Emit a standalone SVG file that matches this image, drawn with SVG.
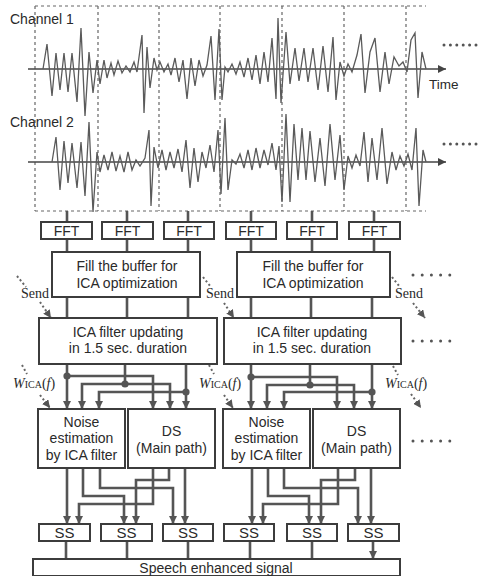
<svg xmlns="http://www.w3.org/2000/svg" width="478" height="576" viewBox="0 0 478 576">
<defs>
<marker id="ah" markerUnits="userSpaceOnUse" markerWidth="9" markerHeight="8" refX="8" refY="4" orient="auto"><path d="M0,0 L8,4 L0,8 z" fill="#555"/></marker>
<marker id="axh" markerUnits="userSpaceOnUse" markerWidth="9" markerHeight="8" refX="8" refY="4" orient="auto"><path d="M0,0 L8,4 L0,8 z" fill="#444"/></marker>
<style>
.box{fill:#fff;stroke:#3c3c3c;stroke-width:2}
.t{font-family:"Liberation Sans",Arial,sans-serif;font-size:14px;fill:#2a2a2a;text-anchor:middle}
.lbl{font-family:"Liberation Sans",Arial,sans-serif;font-size:14px;fill:#2a2a2a}
.ser{font-family:"Liberation Serif","Times New Roman",serif;font-size:14px;fill:#2a2a2a}
.c{fill:none;stroke:#555;stroke-width:2.6}
.ca{fill:none;stroke:#555;stroke-width:2.6;marker-end:url(#ah)}
.dot{fill:#555}
.dash{fill:none;stroke:#666;stroke-width:1.2;stroke-dasharray:3 3}
.wave{fill:none;stroke:#5a5a5a;stroke-width:1.3;stroke-linejoin:miter}
.axis{fill:none;stroke:#444;stroke-width:1.6;marker-end:url(#axh)}
.dotted{fill:none;stroke:#666;stroke-width:2;stroke-dasharray:2 2.5}
.dottedA{fill:none;stroke:#666;stroke-width:2;stroke-dasharray:2 2.5;marker-end:url(#ah)}
.ell{fill:none;stroke:#555;stroke-width:3;stroke-linecap:round;stroke-dasharray:0 9.2}
</style>
</defs>

<g id="signals">
<path class="dash" d="M35,6 H426 M35,211 H426 M35,6 V211 M98,6 V211 M159,6 V211 M220,6 V211 M282,6 V211 M344,6 V211 M406,6 V211"/>
<text class="lbl" x="10" y="24">Channel 1</text>
<text class="lbl" x="10" y="127">Channel 2</text>
<path class="axis" d="M28,69 H446"/>
<path class="axis" d="M28,162 H446"/>
<text class="lbl" x="429" y="89" style="font-size:13.5px">Time</text>
<polyline class="wave" points="43,69 47,44 52,96 56,53 60,90 64,53 68,92 72,53 77,102 81,28 85,116 89,52 93,93 97,60 100,84 104,60 107,78 111,63 114,75 118,61 122,73 126,66 130,72 134,62 137,72 142,35 144,113 147,47 150,88 154,58 157,70 160,62 164,72 168,64 171,75 175,58 179,82 183,60 187,99 191,58 195,86 199,60 203,76 207,65 211,36 215,100 219,29 222,100 225,67 228,72 232,64 236,74 240,62 244,77 248,58 252,80 256,55 260,84 264,52 268,82 272,38 276,99 278,18 281,103 286,32 290,84 295,48 299,81 304,48 308,82 313,48 318,90 323,46 328,92 333,37 336,100 340,62 344,76 348,64 352,72 357,55 361,34 365,93 370,52 375,38 380,92 385,52 389,84 394,57 399,66 403,62 407,72 411,40 415,33 418,98 422,52 426,69"/>
<polyline class="wave" points="52,162 56,137 60,190 64,141 68,183 72,143 77,188 81,142 85,196 89,122 93,212 97,152 100,172 104,155 108,170 112,152 116,171 120,156 124,172 128,152 132,170 136,160 140,166 145,158 149,130 151,206 154,147 158,168 162,150 166,170 170,152 174,168 178,149 182,172 186,140 190,188 194,148 198,182 202,152 206,168 210,145 214,172 218,130 221,194 225,118 228,190 232,160 236,164 240,154 244,168 248,150 252,170 256,148 260,168 264,150 268,165 272,143 276,170 279,146 282,202 286,114 290,202 294,124 298,180 302,128 306,180 310,131 315,182 320,138 325,186 330,124 335,180 340,135 344,190 348,156 352,168 356,155 360,166 364,132 368,182 372,138 377,180 382,128 387,184 392,152 396,170 400,156 404,166 408,154 412,170 416,128 419,206 423,150 426,162"/>
<path class="ell" d="M444,45 H480" style="stroke-dasharray:0 6.4"/>
<path class="ell" d="M444,144 H480" style="stroke-dasharray:0 6.4"/>
</g>

<g id="connectors">
<path class="c" d="M67,211 V222 M127,211 V222 M188,211 V222 M251,211 V222 M312,211 V222 M374,211 V222"/>
<path class="c" d="M67,239 V252 M127,239 V252 M188,239 V252 M251,239 V252 M312,239 V252 M374,239 V252"/>
<path class="c" d="M67,297 V318 M127,297 V318 M188,297 V318 M251,297 V318 M311,297 V318 M372,297 V318"/>
<!-- ICA1 to noise/DS -->
<path class="ca" d="M67,364 V409"/>
<path class="ca" d="M67,376 H153 V409"/>
<path class="c" d="M125,364 V384"/>
<path class="ca" d="M125,384 H82 V409"/>
<path class="ca" d="M125,384 H170 V409"/>
<path class="ca" d="M186,364 V409"/>
<path class="ca" d="M186,392 H99 V409"/>
<!-- ICA2 to noise/DS -->
<path class="ca" d="M251,364 V409"/>
<path class="ca" d="M251,377 H337 V409"/>
<path class="c" d="M310,364 V385"/>
<path class="ca" d="M310,385 H267 V409"/>
<path class="ca" d="M310,385 H354 V409"/>
<path class="ca" d="M372,364 V409"/>
<path class="ca" d="M372,392 H284 V409"/>
<circle class="dot" cx="67" cy="376" r="3.6"/>
<circle class="dot" cx="125" cy="384" r="3.6"/>
<circle class="dot" cx="186" cy="392" r="3.6"/>
<circle class="dot" cx="251" cy="377" r="3.6"/>
<circle class="dot" cx="310" cy="385" r="3.6"/>
<circle class="dot" cx="372" cy="392" r="3.6"/>
<!-- noise/DS 1 to SS -->
<path class="ca" d="M67,468 V524"/>
<path class="ca" d="M83,468 V496 H124 V524"/>
<path class="ca" d="M100,468 V488 H173 V524"/>
<path class="ca" d="M153,468 V504 H79 V524"/>
<path class="ca" d="M169,468 V480 H136 V524"/>
<path class="ca" d="M185,468 V524"/>
<!-- noise/DS 2 to SS -->
<path class="ca" d="M252,468 V524"/>
<path class="ca" d="M268,468 V496 H309 V524"/>
<path class="ca" d="M284,468 V488 H358 V524"/>
<path class="ca" d="M338,468 V504 H263 V524"/>
<path class="ca" d="M355,468 V480 H321 V524"/>
<path class="ca" d="M371,468 V524"/>
<!-- SS to output -->
<path class="ca" d="M66,541 V559 M127,541 V559 M188,541 V559 M250,541 V559 M312,541 V559 M373,541 V559"/>
<!-- Send / W arrows -->
<path class="dotted" d="M17,276 L26,287"/>
<path class="dottedA" d="M40,302 L51,318"/>
<path class="dotted" d="M203,277 L211,287"/>
<path class="dottedA" d="M224,303 L234,318"/>
<path class="dotted" d="M392,277 L400,287"/>
<path class="dottedA" d="M413,303 L425,318"/>
<path class="dotted" d="M22,365 L27,374"/>
<path class="dottedA" d="M40,395 L50,408"/>
<path class="dotted" d="M209,365 L214,374"/>
<path class="dottedA" d="M224,395 L233,408"/>
<path class="dotted" d="M393,366 L398,375"/>
<path class="dottedA" d="M411,394 L421,408"/>
<path class="ell" d="M413,275 H452"/>
<path class="ell" d="M413,341 H452"/>
<path class="ell" d="M413,441 H452"/>
</g>

<g id="fft">
<rect class="box" x="41" y="222" width="51" height="17"/><text class="t" x="66.5" y="236">FFT</text>
<rect class="box" x="102" y="222" width="51" height="17"/><text class="t" x="127.5" y="236">FFT</text>
<rect class="box" x="164" y="222" width="50" height="17"/><text class="t" x="189" y="236">FFT</text>
<rect class="box" x="226" y="222" width="50" height="17"/><text class="t" x="251" y="236">FFT</text>
<rect class="box" x="287" y="222" width="50" height="17"/><text class="t" x="312" y="236">FFT</text>
<rect class="box" x="349" y="222" width="51" height="17"/><text class="t" x="374.5" y="236">FFT</text>
</g>

<g id="fill1"><rect class="box" x="52" y="252" width="148" height="45"/>
<text class="t" x="127" y="271">Fill the buffer for</text><text class="t" x="127" y="288">ICA optimization</text></g>
<g id="fill2"><rect class="box" x="237" y="252" width="153" height="45"/>
<text class="t" x="313" y="271">Fill the buffer for</text><text class="t" x="313" y="288">ICA optimization</text></g>

<g id="ica1"><rect class="box" x="39" y="318" width="178" height="46"/>
<text class="t" x="128" y="337">ICA filter updating</text><text class="t" x="128" y="353">in 1.5 sec. duration</text></g>
<g id="ica2"><rect class="box" x="224" y="318" width="177" height="46"/>
<text class="t" x="312" y="337">ICA filter updating</text><text class="t" x="312" y="353">in 1.5 sec. duration</text></g>

<g id="noise1"><rect class="box" x="38" y="409" width="87" height="59"/>
<text class="t" x="81.5" y="427">Noise</text><text class="t" x="81.5" y="443">estimation</text><text class="t" x="81.5" y="460">by ICA filter</text></g>
<g id="ds1"><rect class="box" x="128" y="409" width="87" height="59"/>
<text class="t" x="171.5" y="436">DS</text><text class="t" x="171.5" y="453">(Main path)</text></g>
<g id="noise2"><rect class="box" x="223" y="409" width="87" height="59"/>
<text class="t" x="266.5" y="427">Noise</text><text class="t" x="266.5" y="443">estimation</text><text class="t" x="266.5" y="460">by ICA filter</text></g>
<g id="ds2"><rect class="box" x="313" y="409" width="87" height="59"/>
<text class="t" x="356.5" y="436">DS</text><text class="t" x="356.5" y="453">(Main path)</text></g>

<g id="ss">
<rect class="box" x="39" y="524" width="51" height="17"/><text class="t" x="64.5" y="538" style="font-size:15px">SS</text>
<rect class="box" x="101" y="524" width="51" height="17"/><text class="t" x="126.5" y="538" style="font-size:15px">SS</text>
<rect class="box" x="163" y="524" width="50" height="17"/><text class="t" x="188" y="538" style="font-size:15px">SS</text>
<rect class="box" x="224" y="524" width="50" height="17"/><text class="t" x="249" y="538" style="font-size:15px">SS</text>
<rect class="box" x="287" y="524" width="50" height="17"/><text class="t" x="312" y="538" style="font-size:15px">SS</text>
<rect class="box" x="348" y="524" width="51" height="17"/><text class="t" x="373.5" y="538" style="font-size:15px">SS</text>
</g>

<g id="output"><rect class="box" x="33" y="559" width="367" height="17"/>
<text class="t" x="216" y="573">Speech enhanced signal</text></g>

<g id="labels">
<text class="ser" x="21" y="298">Send</text>
<text class="ser" x="206" y="298">Send</text>
<text class="ser" x="395" y="298">Send</text>
<text class="ser" x="13" y="388"><tspan font-style="italic">W</tspan><tspan font-size="10">ICA</tspan>(<tspan font-style="italic">f</tspan>)</text>
<text class="ser" x="199" y="388"><tspan font-style="italic">W</tspan><tspan font-size="10">ICA</tspan>(<tspan font-style="italic">f</tspan>)</text>
<text class="ser" x="385" y="388"><tspan font-style="italic">W</tspan><tspan font-size="10">ICA</tspan>(<tspan font-style="italic">f</tspan>)</text>
</g>
</svg>
